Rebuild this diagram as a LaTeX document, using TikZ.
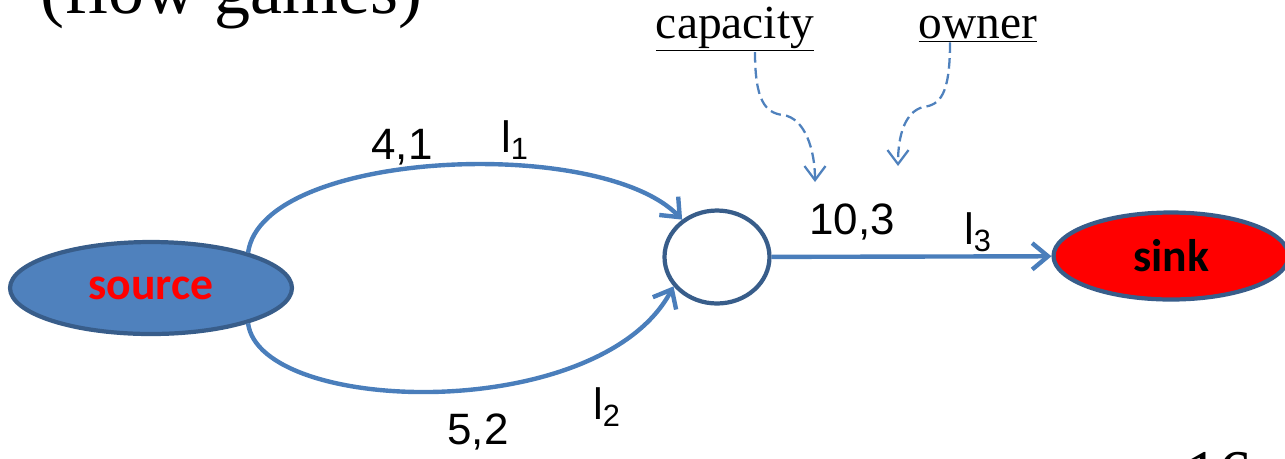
\documentclass[tikz,border=0pt]{standalone}
\usepackage{fontspec}
\setmainfont{Liberation Serif}
\newfontfamily\arialfont{Liberation Sans}
\newfontfamily\calfont{Carlito}
\usepackage{tikz}
\usetikzlibrary{positioning, arrows.meta, calc, shapes.geometric}
\definecolor{cEdge}{HTML}{4A7EBB}
\definecolor{cBorder}{HTML}{385D8A}
\definecolor{cSrc}{HTML}{4F81BD}

\tikzset{
    vertex/.style={ellipse, draw=cBorder, line width=2.4pt, inner sep=0pt},
    flowedge/.style={draw=cEdge, line width=2.5pt, -{Straight Barb[length=9pt, width=15pt]}},
    hintarrow/.style={draw=cSrc, line width=1.3pt, dash pattern=on 6pt off 3pt, -{Straight Barb[length=8pt, width=12pt]}},
    edgelabel/.style={font=\arialfont\fontsize{25}{30}\selectfont, inner sep=0pt},
    hintlabel/.style={font=\fontsize{27}{32}\selectfont, inner sep=0pt, anchor=base}
}

\begin{document}
\begin{tikzpicture}[x=0.02cm, y=-0.02cm]
    \useasboundingbox (0,0) rectangle (1285,458);
    \clip (0,0) rectangle (1285,458);

    % Slide title and page number (cut off)
    \node[anchor=base west, inner sep=0pt, font=\fontsize{41}{48}\selectfont] (title) at (40,13) {(flow games)};
    \node[anchor=base west, inner sep=0pt, font=\fontsize{38}{44}\selectfont] (pagenum) at (1185,496) {16};

    % Vertices
    \node[vertex, fill=cSrc, minimum width=5.64cm, minimum height=1.84cm, font=\calfont\bfseries\fontsize{26}{30}\selectfont, text=red] (src) at (151,288) {source};
    \node[vertex, fill=white, minimum width=2.1cm, minimum height=1.86cm] (mid) at (717,257) {};
    \node[vertex, fill=red, minimum width=4.7cm, minimum height=1.74cm, font=\calfont\bfseries\fontsize{26}{30}\selectfont] (sink) at (1171,256) {sink};

    % Links
    \draw[flowedge] (src.20) .. controls (262,150) and (600,135) .. (mid.133);
    \draw[flowedge] (src.-20) .. controls (260,415) and (600,425) .. (mid.-146);
    \draw[flowedge] (mid) -- (sink);

    % Link labels
    \node[edgelabel] (c1) at (402,147) {4,1};
    \node[edgelabel] (n1) at (515,140) {l\textsubscript{1}};
    \node[edgelabel] (c2) at (478,432) {5,2};
    \node[edgelabel] (n2) at (607,407) {l\textsubscript{2}};
    \node[edgelabel] (c3) at (852,222) {10,3};
    \node[edgelabel] (n3) at (978,232) {l\textsubscript{3}};

    % Explanations
    \node[hintlabel] (cap) at (735,38) {\underline{capacity}};
    \node[hintlabel] (own) at (978,38) {\underline{owner}};
    \coordinate (captip) at (815,182);
    \coordinate (owntip) at (898,166);
    \draw[hintarrow] ([xshift=0.4cm]cap.south) .. controls (755,100) and (765,113) .. (783,115)
        .. controls (805,118) and (815,150) .. (captip);
    \draw[hintarrow] ([xshift=-0.56cm]own.south) .. controls (950,95) and (940,105) .. (923,107)
        .. controls (905,112) and (898,135) .. (owntip);
\end{tikzpicture}
\end{document}
